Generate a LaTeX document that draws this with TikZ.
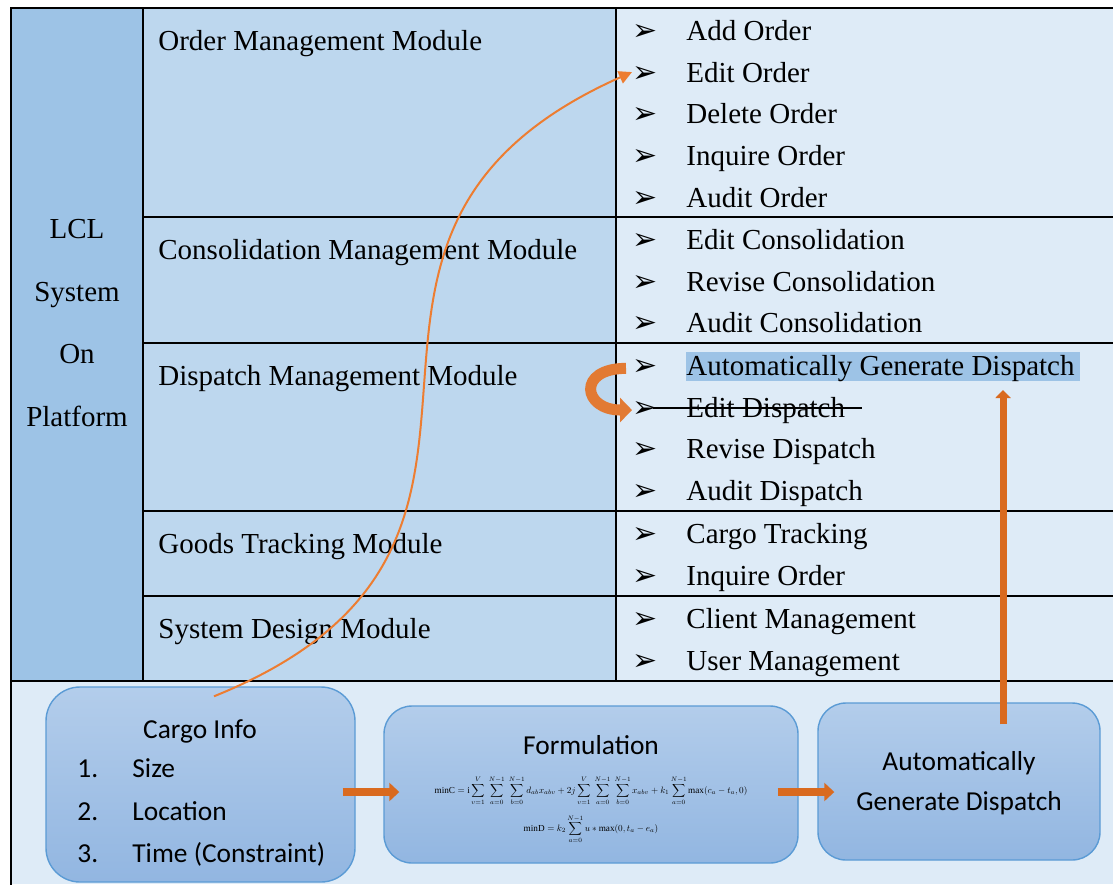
\documentclass[tikz,border=0pt]{standalone}
\usepackage{amsmath}
\usepackage{graphicx}
\usepackage{fontspec}
\setmainfont{Liberation Serif}
\newfontfamily\calibri{Carlito}
\newfontfamily\dejavu{DejaVu Sans}
\usetikzlibrary{arrows.meta}
\usetikzlibrary{calc}
\usetikzlibrary{positioning}
\definecolor{leftblue}{HTML}{9DC3E6}
\definecolor{midblue}{HTML}{BDD7EE}
\definecolor{paleblue}{HTML}{DEEBF7}
\definecolor{boxedge}{HTML}{5B9BD5}
\definecolor{boxtop}{HTML}{B3CDEB}
\definecolor{boxbottom}{HTML}{92B6E1}
\definecolor{curveorange}{HTML}{ED7D31}
\definecolor{blockorange}{HTML}{D96A1F}
\definecolor{uorange}{HTML}{E27A33}
\newcommand{\bul}{\makebox[27pt][l]{\dejavu\fontsize{15}{15}\selectfont ➢}}
\tikzset{tableline/.style = {line width=1pt, line cap=rect}}
\tikzset{module/.style = {anchor=base west, inner sep=0, font=\fontsize{14.5}{17}\selectfont}}
\tikzset{item/.style = {anchor=base west, inner sep=0, font=\fontsize{14.5}{17}\selectfont}}
\tikzset{stepbox/.style = {draw=boxedge, line width=0.7pt, rounded corners=14pt,
                           top color=boxtop, bottom color=boxbottom}}
\tikzset{boxtext/.style = {inner sep=0, font=\calibri\fontsize{13.7}{16}\selectfont}}
\tikzset{blockarrow/.style = {draw=blockorange, line width=4pt, -{Triangle[length=5pt,width=9pt]}}}
\tikzset{uarrow/.style = {draw=uorange, line width=5.5pt, -{Triangle[length=6pt,width=12pt]}}}
\tikzset{thinarrow/.style = {draw=curveorange, line width=1pt, -{Triangle[length=6.5pt,width=6.5pt]}}}

\begin{document}
\begin{tikzpicture}[x=0.5pt, y=-0.5pt]
  \useasboundingbox (0,0) rectangle (1113,884);
  \fill[leftblue] (11,8) rectangle (143,681);
  \fill[midblue] (143,8) rectangle (616,681);
  \fill[paleblue] (616,8) rectangle (1113,681);
  \fill[paleblue] (11,681) rectangle (1113,884);
  \draw[tableline] (11,884) -- (11,8) -- (1113,8);
  \draw[tableline] (143,8) -- (143,681);
  \draw[tableline] (616,8) -- (616,681);
  \draw[tableline] (143,217) -- (1113,217);
  \draw[tableline] (143,343) -- (1113,343);
  \draw[tableline] (143,511) -- (1113,511);
  \draw[tableline] (143,596) -- (1113,596);
  \draw[tableline] (11,681) -- (1113,681);

  \node (lcl) [align=center, inner sep=0, font=\fontsize{14.5}{31.2}\selectfont] at (77,323)
    {LCL\\System\\On\\Platform};

  \node (order) [module] at (158,50.5) {Order Management Module};
  \node (consol) [module] at (158,259.5) {Consolidation Management Module};
  \node (dispatch) [module] at (158,385.5) {Dispatch Management Module};
  \node (tracking) [module] at (158,553.5) {Goods Tracking Module};
  \node (design) [module] at (158,638.5) {System Design Module};

  \fill[leftblue] (686,352) rectangle (1080,381);
  \node (add-order) [item] at (632,40.3) {\bul Add Order};
  \node (edit-order) [item] at (632,82) {\bul Edit Order};
  \node (delete-order) [item] at (632,123.7) {\bul Delete Order};
  \node (inquire-order) [item] at (632,165.4) {\bul Inquire Order};
  \node (audit-order) [item] at (632,207.1) {\bul Audit Order};
  \node (edit-cons) [item] at (632,249.3) {\bul Edit Consolidation};
  \node (revise-cons) [item] at (632,291) {\bul Revise Consolidation};
  \node (audit-cons) [item] at (632,332.7) {\bul Audit Consolidation};
  \node (auto-gen) [item] at (632,375.3) {\bul Automatically Generate Dispatch};
  \node (edit-disp) [item] at (632,417) {\bul Edit Dispatch};
  \node (revise-disp) [item] at (632,458.7) {\bul Revise Dispatch};
  \node (audit-disp) [item] at (632,500.4) {\bul Audit Dispatch};
  \node (cargo-track) [item] at (632,543.3) {\bul Cargo Tracking};
  \node (inquire-track) [item] at (632,585) {\bul Inquire Order};
  \node (client-mgmt) [item] at (632,628.3) {\bul Client Management};
  \node (user-mgmt) [item] at (632,670) {\bul User Management};
  \draw[line width=0.9pt] (653,408) -- (862,408);

  \node (cargo) [stepbox, rounded corners=17pt, minimum width=154.5pt, minimum height=97.5pt] at (200.5,784.5) {};
  \node (form) [stepbox, minimum width=207pt, minimum height=78.5pt] at (591,784.5) {};
  \node (auto) [stepbox, minimum width=141pt, minimum height=78.5pt] at (959,781.5) {};

  \node (cargo-title) [boxtext, anchor=base] at (200,738) {Cargo Info};
  \node (size-no) [boxtext, anchor=base west] at (77,777) {1.};
  \node (size) [boxtext, anchor=base west] at (132,777) {Size};
  \node (location-no) [boxtext, anchor=base west] at (77,820) {2.};
  \node (location) [boxtext, anchor=base west] at (132,820) {Location};
  \node (time-no) [boxtext, anchor=base west] at (77,862) {3.};
  \node (time) [boxtext, anchor=base west] at (132,862) {Time (Constraint)};
  \node (form-title) [boxtext, anchor=base] at (591,754) {Formulation};
  \node (cost) [inner sep=0] at (591,791) {\scalebox{0.46}{$\displaystyle \mathrm{minC} = \mathrm{i}\sum_{v=1}^{V}\;\sum_{a=0}^{N-1}\;\sum_{b=0}^{N-1} d_{ab}x_{abv}
    + 2j\sum_{v=1}^{V}\;\sum_{a=0}^{N-1}\;\sum_{b=0}^{N-1} x_{abv} + k_1\sum_{a=0}^{N-1}\max(c_a - t_a, 0)$}};
  \node (delay) [inner sep=0] at (591,829) {\scalebox{0.46}{$\displaystyle \mathrm{minD} = k_2\sum_{a=0}^{N-1} u * \max(0, t_a - e_a)$}};
  \node (auto-top) [boxtext, anchor=base] at (959,770) {Automatically};
  \node (auto-bottom) [boxtext, anchor=base] at (959,810) {Generate Dispatch};

  \draw[blockarrow] ($(cargo.east)+(-13,7.5)$) -- ($(form.west)+(16,7.5)$);
  \draw[blockarrow] ($(form.east)+(-21,7.5)$) -- ($(auto.west)+(17,10.5)$);
  \coordinate (agtip) at (1003,390);
  \draw[blockarrow, line width=3.5pt, -{Triangle[length=4pt,width=7.5pt]}] ($(auto.north)+(44,22)$) -- (agtip);
  \draw[uarrow] ([xshift=-3pt]auto-gen.west) to[out=180, in=180, looseness=3] (edit-disp.west);
  \coordinate (curvestart) at ($(cargo.north)+(13.5,10)$);
  \draw[thinarrow] (curvestart) to[out=22, in=204, looseness=1.4] (edit-order.west);
\end{tikzpicture}
\end{document}
